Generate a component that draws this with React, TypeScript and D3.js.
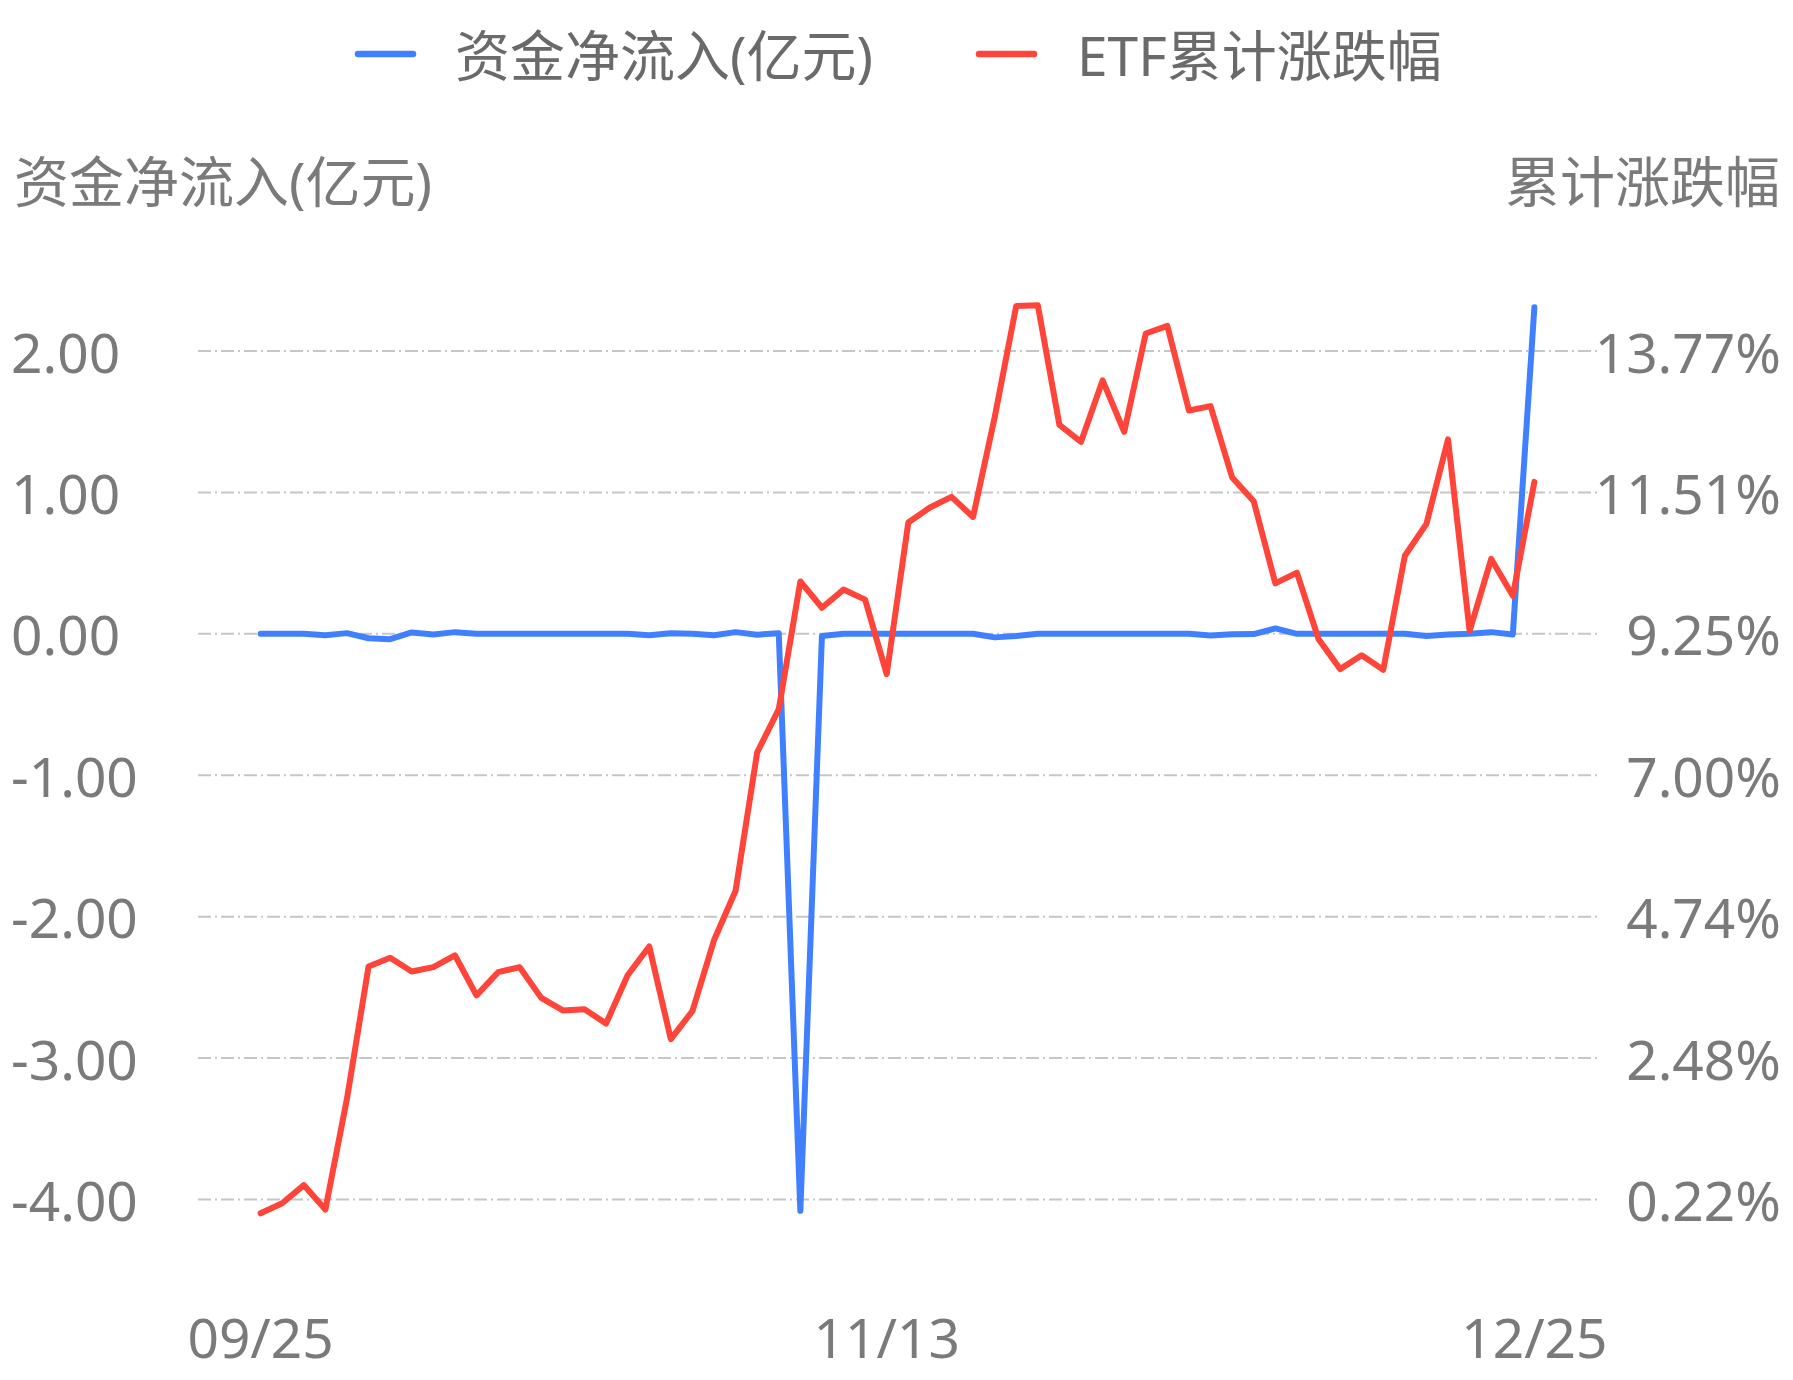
import React from "react";
import * as d3 from "d3";

const dates: string[] = [
  "09/25","09/26","09/29","09/30","10/09","10/10","10/13","10/14","10/15","10/16",
  "10/17","10/20","10/21","10/22","10/23","10/24","10/27","10/28","10/29","10/30",
  "10/31","11/03","11/04","11/05","11/06","11/07","11/10","11/11","11/12","11/13",
  "11/14","11/17","11/18","11/19","11/20","11/21","11/24","11/25","11/26","11/27",
  "11/28","12/01","12/02","12/03","12/04","12/05","12/08","12/09","12/10","12/11",
  "12/12","12/15","12/16","12/17","12/18","12/19","12/22","12/23","12/24","12/25",
];

const xTickLabels: string[] = ["09/25", "11/13", "12/25"];

// 资金净流入(亿元)
const netInflow: number[] = [
  0, 0, 0, -0.01, 0.005, -0.031, -0.038, 0.01, -0.005, 0.012,
  0, 0, 0, 0, 0, 0, 0, 0, -0.01, 0.004,
  0, -0.01, 0.012, -0.006, 0.004, -4.08, -0.015, 0, 0, 0,
  0, 0, 0, 0, -0.025, -0.015, 0, 0, 0, 0,
  0, 0, 0, 0, -0.012, -0.003, -0.002, 0.038, 0, 0,
  0, 0, 0, 0, -0.015, -0.005, 0, 0.012, -0.005, 2.31,
];

// ETF累计涨跌幅 (%)
const etfReturn: number[] = [
  0.0, 0.16, 0.45, 0.06, 1.83, 3.94, 4.08, 3.86, 3.93, 4.12,
  3.48, 3.85, 3.93, 3.44, 3.24, 3.26, 3.03, 3.8, 4.26, 2.78,
  3.23, 4.36, 5.15, 7.36, 8.05, 10.09, 9.67, 9.96, 9.8, 8.61,
  11.03, 11.27, 11.44, 11.12, 12.71, 14.49, 14.5, 12.59, 12.32, 13.3,
  12.48, 14.05, 14.17, 12.82, 12.89, 11.75, 11.37, 10.06, 10.23, 9.17,
  8.69, 8.91, 8.68, 10.5, 11.01, 12.36, 9.3, 10.45, 9.86, 11.68,
];

const leftTicks: number[] = [-4, -3, -2, -1, 0, 1, 2];
const rightTickLabels: string[] = ["0.22%", "2.48%", "4.74%", "7.00%", "9.25%", "11.51%", "13.77%"];
const rightDomain: number[] = [0.22, 13.77];

const seriesNames: string[] = ["资金净流入(亿元)", "ETF累计涨跌幅"];
const seriesColors: string[] = ["#4080ff", "#ff4439"];

const W = 1793;
const H = 1380;
const FONT = "'Noto Sans', 'Noto Sans CJK SC', sans-serif";
const TEXT = "#7a7a7a";
const FS = 55;

export default function App() {
  const plotLeft = 198;
  const plotRight = 1597;
  const yTop = 351;
  const yBottom = 1199.5;

  const x = d3.scalePoint<string>().domain(dates).range([plotLeft, plotRight]).padding(2.9);
  const yL = d3.scaleLinear().domain([-4, 2]).range([yBottom, yTop]);
  const yR = d3.scaleLinear().domain(rightDomain).range([yBottom, yTop]);

  const blueLine = d3
    .line<number>()
    .x((_, i) => x(dates[i]) as number)
    .y((d) => yL(d));
  const redLine = d3
    .line<number>()
    .x((_, i) => x(dates[i]) as number)
    .y((d) => yR(d));

  return (
    <div style={{ position: "absolute", left: 0, top: 0 }}>
      <svg width={W} height={H} style={{ display: "block", background: "#fff" }}>
        {/* legend */}
        <g fontFamily={FONT} fontSize={FS} fill="#6a6a6a">
          <line x1={358} x2={413} y1={54} y2={54} stroke={seriesColors[0]} strokeWidth={6.5} strokeLinecap="round" />
          <text x={455} y={54} dominantBaseline="central">{seriesNames[0]}</text>
          <line x1={979} x2={1034} y1={54} y2={54} stroke={seriesColors[1]} strokeWidth={6.5} strokeLinecap="round" />
          <text x={1077} y={54} dominantBaseline="central">{seriesNames[1]}</text>
        </g>

        {/* axis titles */}
        <g fontFamily={FONT} fontSize={FS} fill={TEXT}>
          <text x={14} y={180} dominantBaseline="central">资金净流入(亿元)</text>
          <text x={1780} y={180} dominantBaseline="central" textAnchor="end">累计涨跌幅</text>
        </g>

        {/* grid */}
        <g>
          {leftTicks.map((t) => (
            <line
              key={t}
              x1={plotLeft}
              x2={plotRight}
              y1={yL(t)}
              y2={yL(t)}
              stroke="#c6c6c6"
              strokeWidth={2}
              strokeDasharray="13,4,2,4"
            />
          ))}
        </g>

        {/* left tick labels */}
        <g fontFamily={FONT} fontSize={FS} fill={TEXT}>
          {leftTicks.map((t) => (
            <text key={t} x={11} y={yL(t)} dominantBaseline="central">
              {t.toFixed(2)}
            </text>
          ))}
        </g>

        {/* right tick labels */}
        <g fontFamily={FONT} fontSize={FS} fill={TEXT} textAnchor="end">
          {rightTickLabels.map((lab, i) => (
            <text key={lab} x={1781} y={yL(leftTicks[i])} dominantBaseline="central">
              {lab}
            </text>
          ))}
        </g>

        {/* x labels */}
        <g fontFamily={FONT} fontSize={FS} fill={TEXT} textAnchor="middle">
          {xTickLabels.map((lab) => (
            <text key={lab} x={x(lab) as number} y={1336} dominantBaseline="central">
              {lab}
            </text>
          ))}
        </g>

        {/* lines */}
        <path d={blueLine(netInflow) || ""} fill="none" stroke={seriesColors[0]} strokeWidth={6} strokeLinejoin="round" strokeLinecap="round" />
        <path d={redLine(etfReturn) || ""} fill="none" stroke={seriesColors[1]} strokeWidth={6} strokeLinejoin="round" strokeLinecap="round" />
      </svg>
    </div>
  );
}
